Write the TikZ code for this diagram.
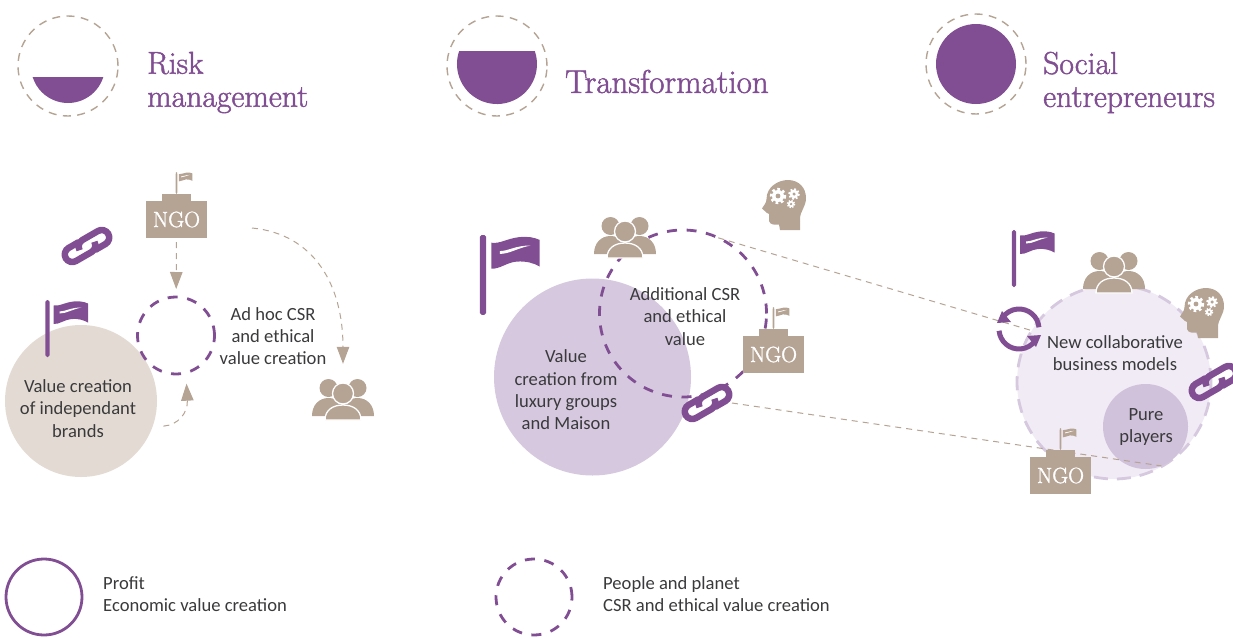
\documentclass[tikz,border=0pt]{standalone}
\usepackage{fontspec}
\newfontfamily\bodyfont{Carlito}
\newfontfamily\titlefont[FakeBold=1.5]{Latin Modern Roman}
\usetikzlibrary{arrows.meta}
\definecolor{purpleColor}{RGB}{129,78,147}
\definecolor{lilacColor}{RGB}{213,200,223}
\definecolor{pureColor}{RGB}{208,194,218}
\definecolor{paleColor}{RGB}{240,235,244}
\definecolor{sandColor}{RGB}{227,219,211}
\definecolor{tanColor}{RGB}{181,163,148}
\definecolor{inkColor}{RGB}{58,58,60}
\tikzset{blob/.style={circle, inner sep=0pt, outer sep=0pt}}
\tikzset{ringDash/.style={blob, draw=purpleColor, line width=2.8pt, dash pattern=on 10pt off 9.6pt}}
\tikzset{ringTan/.style={blob, draw=tanColor, line width=1.4pt, dash pattern=on 8pt off 6.4pt, minimum size=100pt}}
\tikzset{bodytext/.style={align=center, text=inkColor, inner sep=0pt, font=\bodyfont\fontsize{18.6}{22.3}\selectfont}}
\tikzset{legendtext/.style={bodytext, align=left, anchor=west}}
\tikzset{titletext/.style={align=left, anchor=west, text=purpleColor, inner sep=0pt, font=\titlefont\fontsize{31.7}{33}\selectfont}}
\tikzset{conn/.style={draw=tanColor, line width=1pt, dash pattern=on 6pt off 5pt}}
\tikzset{connArrow/.style={conn, -{Triangle[length=17pt,width=12.5pt,fill=tanColor]}}}
\tikzset{
  pics/flagicon/.style={code={
    \fill[rounded corners=1.8pt] (-2.2,0) rectangle (2.2,57);
    \fill (6,5.5) .. controls (12,6.5) and (17,2.5) .. (26,1.5) .. controls (32,1) and (36,1.5) .. (40.5,3.5) -- (40.5,22.5) .. controls (36,20) and (31,18.5) .. (24,19) .. controls (17,19.5) and (12,24.5) .. (6,24) -- cycle;
    \fill[white] (12,11.5) .. controls (18,11.5) and (23,7.5) .. (34,7.5) .. controls (24,9.5) and (19,13.5) .. (12,13.5) -- cycle;
  }},
  pics/ngo/.style={code={
    \fill[tanColor] (-14.5,-25.5) rectangle (14.5,-18);
    \pic[scale=.39, fill=tanColor] at (0,-47.5) {flagicon};
    \node (-box) [fill=tanColor, text=white, inner sep=0pt, minimum width=61pt, minimum height=37pt, font=\titlefont\fontsize{22}{22}\selectfont] {NGO};
  }},
  pics/people/.style={code={
    \node (-box) [inner sep=0pt, minimum width=63pt, minimum height=40pt] {};
    \fill[tanColor] (-14.5,-12) circle[radius=9];
    \fill[tanColor] (14.5,-12) circle[radius=9];
    \fill[tanColor] (-31,16) .. controls (-31,5) and (-24,-2) .. (-14.5,-2) .. controls (-5,-2) and (2,5) .. (2,16) -- cycle;
    \fill[tanColor] (31,16) .. controls (31,5) and (24,-2) .. (14.5,-2) .. controls (5,-2) and (-2,5) .. (-2,16) -- cycle;
    \filldraw[tanColor, draw=white, line width=1.3pt] (0,-6.5) circle[radius=10.5];
    \filldraw[tanColor, draw=white, line width=1.3pt] (-18,20) .. controls (-18,10) and (-10,5) .. (0,5) .. controls (10,5) and (18,10) .. (18,20) -- cycle;
  }},
  pics/gearwheel/.style 2 args={code={
    \fill[white] (0,0) circle[radius=.75*#1];
    \draw[white, line width=.35*#1, dash pattern=on #2pt off #2pt] (0,0) circle[radius=.85*#1];
    \fill[tanColor] (0,0) circle[radius=.3*#1];
  }},
  pics/thinker/.style={code={
    \node (-box) [inner sep=0pt, minimum width=44pt, minimum height=50pt] {};
    \fill[tanColor] (-4,25) -- (-5,19.5) .. controls (-9,20) and (-14,20) .. (-15,16) -- (-15,9) -- (-17,8) -- (-22,3.5) .. controls (-20,0) and (-17.5,-2) .. (-17.5,-6) .. controls (-17.5,-18) and (-6,-25) .. (4,-25) .. controls (15,-25) and (22,-17) .. (22,-7) .. controls (22,2) and (16,6) .. (16,14) -- (16,25) -- cycle;
    \pic at (-6,-9) {gearwheel={8}{2.6}};
    \pic at (10,-11) {gearwheel={5.8}{1.9}};
    \pic at (7,-1) {gearwheel={4.2}{1.4}};
  }},
  pics/chainlink/.style={code={
    \node (-box) [inner sep=0pt, minimum width=50pt, minimum height=40pt] {};
    \begin{scope}[rotate=30]
    \draw[purpleColor, line width=6.5pt] (-5,-7.5) -- (-17,-7.5) arc[start angle=270, end angle=90, radius=7.5] -- (1,7.5) arc[start angle=90, end angle=0, radius=7.5];
    \draw[purpleColor, line width=6.5pt] (5,7.5) -- (17,7.5) arc[start angle=90, end angle=-90, radius=7.5] -- (-1,-7.5) arc[start angle=-90, end angle=-180, radius=7.5];
    \end{scope}
  }},
  pics/recycle/.style={code={
    \draw[purpleColor, line width=5pt] (-5:20) arc[start angle=-5, end angle=-145, radius=20];
    \fill[purpleColor] (-22,-6) -- (-17,-18) -- (-8,-7) -- cycle;
    \draw[purpleColor, line width=5pt] (175:20) arc[start angle=175, end angle=35, radius=20];
    \fill[purpleColor] (22,6) -- (17,18) -- (8,7) -- cycle;
  }}
}

\begin{document}
\begin{tikzpicture}[x=1pt, y=-1pt]
\path[use as bounding box, clip] (0,0) rectangle (1233,637);
% Nodes
\node (riskring) [ringTan] at (68,66) {};
\fill[purpleColor] (103.3,77) arc[start angle=17.3, end angle=162.7, radius=37] -- cycle;
\node (risktitle) [titletext] at (147,82.5) {Risk\\management};

\node (changering) [ringTan] at (497,66) {};
\fill[purpleColor] (534.8,51) arc[start angle=-19, end angle=199, radius=40] -- cycle;
\node (changetitle) [titletext, font=\titlefont\fontsize{33}{33}\selectfont] at (565,81.5) {Transformation};

\node (socialring) [ringTan] at (976,64) {};
\node (socialdisc) [blob, fill=purpleColor, minimum size=80pt] at (976,64) {};
\node (socialtitle) [titletext] at (1043,82.5) {Social\\entrepreneurs};

\node (brandcircle) [blob, fill=sandColor, minimum size=152pt] at (81,401) {};
\node (adhoc) [ringDash, minimum size=77pt] at (176,335.5) {};

\node (groupcircle) [blob, fill=lilacColor, minimum size=197pt] at (592.5,377) {};
\node (csrcircle) [ringDash, minimum size=167pt] at (683,313.5) {};

\node (collabcircle) [blob, fill=paleColor, draw=lilacColor, line width=2.8pt, dash pattern=on 14pt off 9pt, minimum size=194pt] at (1114,382) {};
\node (purecircle) [blob, fill=pureColor, minimum size=85pt] at (1145.5,426.5) {};

% Connectors
\coordinate (chainend) at (732,403);
\draw [conn] (csrcircle.65) -- (collabcircle.148);
\draw [conn] (chainend) -- (purecircle.-68);

% Icons
\pic [fill=purpleColor] at (47.5,300) {flagicon};
\pic (ngoleft) at (176.5,219.5) {ngo};
\pic (chainleft) at (87,246) {chainlink};
\pic (peopleleft) at (343,400) {people};

\pic [fill=purpleColor, scale=1.4] at (483,235) {flagicon};
\pic (peoplemid) at (625,238) {people};
\pic (thinkermid) at (784,205) {thinker};
\pic (ngomid) at (773.5,354.5) {ngo};
\pic (chainmid) at (707,403) {chainlink};

\pic [fill=purpleColor] at (1014,230) {flagicon};
\pic (peopleright) at (1114,273) {people};
\pic (thinkerright) at (1202,313) {thinker};
\pic (recycleright) at (1019,329) {recycle};
\pic (chainright) at (1214,382) {chainlink};
\pic (ngoright) at (1060.5,475.5) {ngo};

\draw [connArrow, shorten <=4pt, shorten >=8pt] (ngoleft-box) -- (adhoc);
\coordinate (arcstart) at (252,228);
\draw [connArrow, shorten >=16pt] (arcstart) .. controls +(62,6) and +(0,-95) .. (peopleleft-box.north);
\draw [connArrow, shorten <=11pt, shorten >=11pt] (brandcircle.-20) .. controls +(26,-2) and +(2,40) .. (adhoc.-75);

% Labels
\node (brandtext) [bodytext] at (78,408.5) {Value creation\\of independant\\brands};
\node (adhoctext) [bodytext] at (273,336) {Ad hoc CSR\\and ethical\\value creation};
\node (grouptext) [bodytext] at (566,390) {Value\\creation from\\luxury groups\\and Maison};
\node (csrtext) [bodytext] at (685,316.5) {Additional CSR\\and ethical\\value};
\node (collabtext) [bodytext] at (1115,353) {New collaborative\\business models};
\node (puretext) [bodytext] at (1146,427) {Pure\\players};

\node (profitring) [blob, draw=purpleColor, line width=2.8pt, minimum size=76pt] at (44,597) {};
\node (profittext) [legendtext] at (103,594) {Profit\\Economic value creation};
\node (peoplering) [ringDash, minimum size=76pt] at (534,597) {};
\node (peopletext) [legendtext] at (603,594) {People and planet\\CSR and ethical value creation};
\end{tikzpicture}
\end{document}
